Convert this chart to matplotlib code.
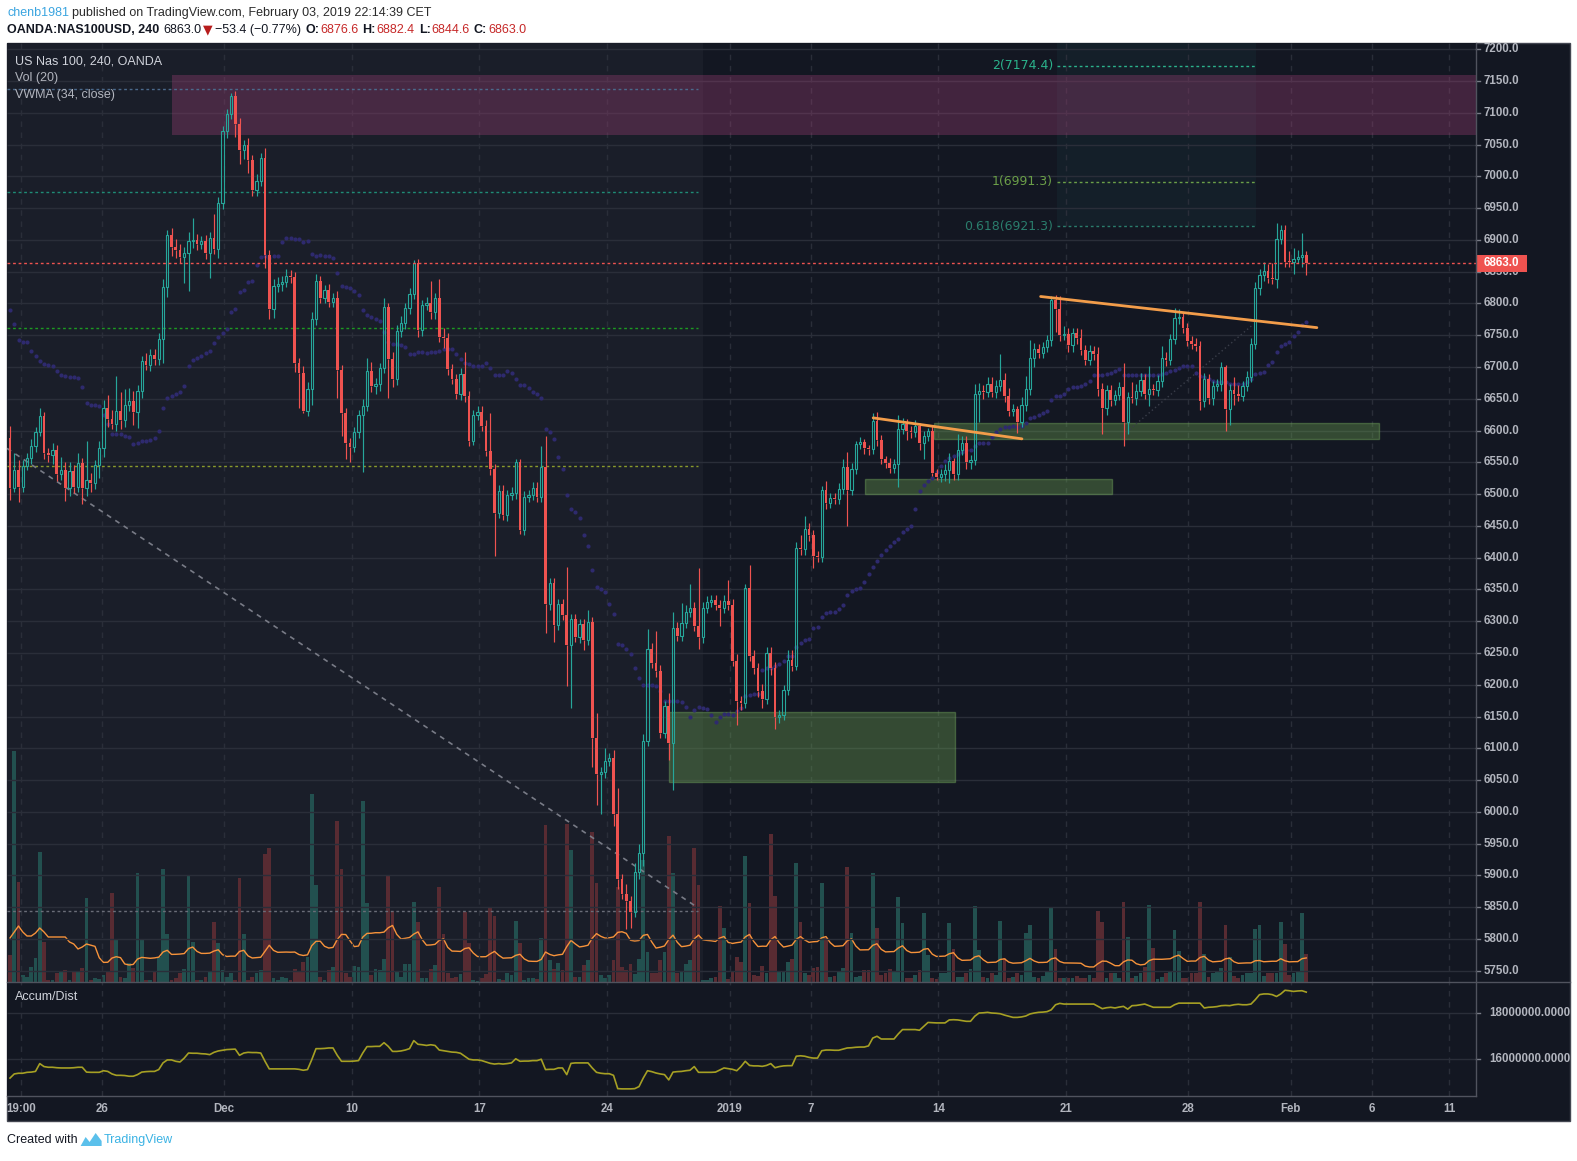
import matplotlib
matplotlib.use("Agg")
import matplotlib.pyplot as plt
import matplotlib.transforms as mtransforms
from matplotlib.patches import Rectangle, Polygon
from matplotlib.collections import LineCollection
from matplotlib.lines import Line2D
import numpy as np
import pandas as pd

# ---------------- data ----------------
first_open = 6589.0
closes = [
 6509, 6538, 6512, 6544, 6557, 6575, 6597, 6623, 6565, 6562,
 6570, 6531, 6538, 6509, 6536, 6512, 6549, 6509, 6523, 6518,
 6546, 6573, 6636, 6618, 6610, 6631, 6617, 6641, 6647, 6629,
 6662, 6710, 6703, 6719, 6713, 6744, 6826, 6908, 6889, 6884,
 6873, 6879, 6898, 6900, 6894, 6898, 6880, 6903, 6886, 6958,
 7071, 7098, 7127, 7082, 7042, 7050, 7026, 6979, 6993, 7029,
 6876, 6792, 6828, 6831, 6834, 6844, 6842, 6707, 6691, 6631,
 6666, 6776, 6836, 6809, 6821, 6803, 6809, 6695, 6628, 6580,
 6574, 6598, 6624, 6639, 6693, 6670, 6673, 6699, 6795, 6713,
 6681, 6756, 6770, 6793, 6815, 6863, 6759, 6798, 6800, 6786,
 6808, 6747, 6745, 6697, 6681, 6658, 6689, 6655, 6583, 6625,
 6630, 6608, 6568, 6540, 6470, 6505, 6467, 6499, 6502, 6550,
 6443, 6495, 6499, 6509, 6495, 6543, 6327, 6360, 6294, 6327,
 6310, 6263, 6304, 6275, 6295, 6270, 6299, 6116, 6060, 6062,
 6080, 6085, 5997, 5894, 5871, 5860, 5842, 5905, 5935, 6112,
 6256, 6235, 6221, 6124, 6167, 6108, 6289, 6277, 6298, 6315,
 6321, 6292, 6275, 6321, 6331, 6333, 6326, 6321, 6332, 6325,
 6238, 6174, 6172, 6352, 6246, 6227, 6191, 6178, 6250, 6226,
 6150, 6152, 6192, 6239, 6229, 6415, 6413, 6445, 6435, 6402,
 6401, 6507, 6486, 6494, 6492, 6508, 6543, 6506, 6539, 6579,
 6582, 6573, 6571, 6615, 6585, 6555, 6549, 6541, 6547, 6602,
 6610, 6600, 6598, 6607, 6581, 6592, 6599, 6534, 6527, 6531,
 6538, 6552, 6531, 6570, 6581, 6550, 6554, 6658, 6663, 6661,
 6673, 6661, 6670, 6679, 6655, 6631, 6634, 6614, 6641, 6666,
 6715, 6728, 6722, 6731, 6743, 6805, 6791, 6750, 6752, 6734,
 6753, 6746, 6727, 6711, 6725, 6721, 6665, 6636, 6664, 6648,
 6656, 6669, 6613, 6653, 6651, 6663, 6680, 6658, 6665, 6664,
 6678, 6714, 6711, 6744, 6777, 6779, 6761, 6741, 6737, 6733,
 6647, 6681, 6652, 6670, 6673, 6700, 6634, 6664, 6657, 6655,
 6670, 6685, 6736, 6824, 6845, 6851, 6840, 6839, 6901, 6915,
 6866, 6865, 6870, 6873, 6877, 6863]

# wick length above body top / below body bottom (points)
upper_wick = [
 18, 27, 15, 10, 8, 12, 8, 13, 6, 8,
 10, 8, 20, 12, 15, 10, 15, 8, 60, 10,
 8, 10, 12, 20, 15, 55, 30, 25, 20, 15,
 10, 8, 12, 10, 10, 10, 12, 7, 10, 12,
 10, 10, 15, 34, 10, 8, 10, 10, 38, 10,
 8, 8, 5, 8, 10, 8, 10, 8, 10, 8,
 16, 8, 10, 10, 10, 10, 8, 8, 8, 10,
 10, 10, 11, 8, 8, 10, 8, 10, 8, 8,
 8, 8, 8, 10, 21, 15, 10, 8, 13, 5,
 10, 10, 10, 8, 10, 6, 7, 8, 10, 36,
 8, 30, 15, 8, 8, 8, 10, 35, 8, 8,
 8, 8, 8, 59, 8, 10, 10, 8, 10, 6,
 6, 10, 8, 10, 10, 32, 48, 8, 8, 8,
 8, 76, 8, 8, 8, 8, 19, 8, 39, 8,
 20, 8, 13, 40, 8, 15, 8, 15, 15, 10,
 32, 10, 49, 10, 8, 20, 25, 10, 30, 10,
 37, 10, 91, 10, 8, 8, 8, 8, 10, 33,
 10, 10, 8, 7, 37, 8, 8, 10, 10, 10,
 10, 8, 8, 15, 15, 10, 20, 20, 10, 8,
 8, 6, 14, 8, 8, 10, 13, 24, 10, 5,
 8, 5, 5, 13, 15, 8, 5, 8, 8, 23,
 10, 8, 8, 10, 5, 8, 5, 8, 5, 8,
 10, 12, 5, 25, 10, 10, 8, 15, 12, 8,
 12, 12, 10, 41, 12, 12, 8, 5, 12, 20,
 28, 10, 8, 8, 8, 7, 8, 20, 12, 10,
 8, 8, 14, 8, 10, 8, 10, 10, 8, 8,
 8, 8, 37, 8, 23, 10, 10, 9, 37, 8,
 10, 19, 10, 8, 16, 12, 8, 8, 8, 8,
 8, 10, 8, 8, 8, 8, 3, 10, 21, 15,
 8, 8, 10, 10, 10, 15, 11, 23, 25, 8,
 8, 17, 17, 11, 34, 6]
lower_wick = [
 18, 5, 25, 8, 6, 10, 8, 6, 10, 12,
 15, 10, 8, 20, 12, 10, 8, 25, 12, 15,
 10, 20, 15, 12, 8, 10, 15, 12, 10, 20,
 25, 10, 8, 10, 10, 10, 37, 16, 15, 12,
 10, 40, 60, 10, 10, 8, 10, 40, 8, 15,
 10, 10, 8, 20, 23, 15, 20, 10, 10, 8,
 20, 16, 15, 10, 12, 8, 10, 15, 55, 3,
 8, 25, 10, 8, 8, 8, 8, 43, 36, 24,
 23, 8, 10, 89, 8, 10, 12, 10, 8, 61,
 12, 10, 8, 10, 10, 8, 12, 10, 8, 10,
 10, 8, 15, 10, 8, 8, 10, 10, 8, 5,
 8, 8, 8, 10, 68, 8, 8, 10, 8, 10,
 6, 8, 8, 8, 8, 8, 45, 10, 27, 8,
 8, 65, 99, 8, 10, 15, 8, 45, 49, 64,
 8, 8, 19, 15, 8, 44, 24, 8, 10, 20,
 8, 8, 8, 8, 8, 27, 74, 8, 8, 8,
 8, 8, 18, 10, 8, 8, 8, 28, 8, 8,
 8, 38, 12, 8, 8, 10, 10, 15, 8, 10,
 20, 10, 8, 8, 8, 6, 8, 8, 8, 18,
 8, 8, 10, 8, 8, 8, 8, 56, 8, 8,
 8, 10, 10, 8, 10, 8, 8, 8, 8, 36,
 8, 15, 10, 8, 12, 25, 8, 5, 5, 8,
 10, 20, 8, 8, 8, 10, 10, 8, 44, 12,
 8, 8, 10, 8, 10, 8, 8, 18, 8, 10,
 10, 15, 8, 8, 8, 10, 36, 9, 8, 10,
 10, 10, 8, 8, 8, 10, 10, 41, 12, 10,
 8, 8, 37, 18, 8, 10, 8, 8, 20, 8,
 10, 10, 10, 8, 8, 10, 8, 8, 8, 8,
 15, 10, 10, 12, 8, 10, 34, 25, 16, 8,
 8, 8, 8, 8, 10, 10, 8, 8, 15, 8,
 8, 7, 18, 6, 16, 18]

volume = [
 27, 231, 100, 7, 5, 15, 24, 130, 40, 2,
 2, 9, 10, 12, 2, 10, 10, 14, 84, 2,
 4, 3, 7, 10, 89, 42, 5, 4, 19, 14,
 109, 42, 2, 2, 10, 25, 113, 48, 2, 4,
 9, 13, 107, 40, 2, 2, 5, 10, 60, 39,
 12, 5, 9, 2, 104, 48, 2, 5, 9, 12,
 128, 134, 4, 2, 5, 4, 2, 13, 10, 20,
 25, 188, 97, 5, 2, 12, 15, 161, 113, 9,
 5, 16, 15, 181, 79, 7, 13, 12, 23, 107,
 71, 10, 5, 18, 18, 80, 60, 4, 4, 13,
 17, 95, 48, 9, 4, 5, 8, 70, 39, 2,
 1, 4, 8, 75, 66, 3, 2, 9, 7, 61,
 39, 2, 4, 4, 3, 44, 157, 22, 13, 19,
 12, 158, 132, 5, 5, 17, 22, 150, 99, 7,
 4, 7, 22, 95, 15, 12, 18, 8, 23, 122,
 30,
 9, 9, 22, 30, 146, 109, 9, 10, 18, 22,
 134, 97, 2, 2, 4, 5, 76, 54, 3, 10,
 25, 20, 126, 79, 7, 6, 16, 9, 148, 86,
 10, 11, 20, 23, 119, 60, 9, 7, 14, 15,
 99, 44, 5, 6, 11, 14, 115, 49, 5, 6,
 12, 12, 109, 54, 7, 9, 13, 10, 85, 59,
 4, 4, 7, 12, 69, 27, 4, 3, 9, 9,
 59, 33, 5, 5, 9, 13, 76, 32, 5, 4,
 9, 7, 61, 24, 4, 5, 9, 7, 49, 57,
 5, 4, 6, 10, 75, 33, 4, 4, 4, 4,
 6, 4, 4, 7, 4, 71, 60, 4, 9, 9,
 4, 80, 45, 4, 6, 9, 15, 77, 34, 3,
 5, 9, 10, 52, 31, 4, 4, 9, 9, 80,
 28, 5, 9, 10, 14, 57, 25, 6, 4, 7,
 9, 9, 53, 57, 6, 9, 9, 9, 60, 38,
 7, 9, 10, 69, 28]
# Vol(20) average for the first bars (history before the window)
vol_ma_head = [44, 50, 56, 50, 46, 46, 49, 54, 50, 45, 45, 45, 45, 45, 40, 38, 33, 35, 38]

vwma = [
 6790, 6768, 6743, 6740, 6739, 6726, 6718, 6710, 6705, 6703,
 6702, 6694, 6688, 6686, 6685, 6684, 6682, 6669, 6644, 6641,
 6640, 6639, 6625, 6610, 6595, 6595, 6594, 6592, 6590, 6579,
 6581, 6583, 6584, 6585, 6589, 6599, 6636, 6652, 6655, 6657,
 6660, 6670, 6702, 6711, 6714, 6717, 6722, 6726, 6738, 6747,
 6754, 6760, 6786, 6791, 6818, 6822, 6834, 6836, 6860, 6873,
 6874, 6872, 6874, 6875, 6896, 6903, 6903, 6902, 6901, 6897,
 6898, 6878, 6875, 6877, 6875, 6875, 6872, 6848, 6828, 6826,
 6824, 6820, 6814, 6789, 6782, 6779, 6776, 6773, 6755, 6740,
 6737, 6736, 6734, 6732, 6720, 6720, 6723, 6723, 6722, 6723,
 6723, 6725, 6728, 6728, 6728, 6720, 6712, 6707, 6704, 6702,
 6701, 6701, 6707, 6698, 6687, 6687, 6687, 6693, 6690, 6681,
 6672, 6672, 6667, 6661, 6658, 6652, 6602, 6597, 6587, 6559,
 6540, 6498, 6476, 6472, 6463, 6436, 6419, 6380, 6354, 6350,
 6346, 6327, 6312, 6264, 6263, 6256, 6249, 6227, 6210, 6200,
 6200, 6200, 6198, 6190, 6175, 6175, 6175, 6175, 6173, 6165,
 6150, 6161, 6165, 6164, 6162, 6153, 6141, 6150, 6154, 6154,
 6153, 6159, 6164, 6182, 6184, 6186, 6186, 6224, 6227, 6227,
 6230, 6232, 6237, 6245, 6245, 6260, 6266, 6270, 6272, 6289,
 6291, 6306, 6313, 6314, 6315, 6319, 6326, 6341, 6348, 6350,
 6352, 6362, 6375, 6385, 6395, 6405, 6412, 6418, 6424, 6430,
 6440, 6445, 6450, 6477, 6505, 6514, 6520, 6525, 6535, 6544,
 6552, 6557, 6560, 6563, 6566, 6569, 6569, 6575, 6580, 6581,
 6581, 6590, 6597, 6603, 6605, 6606, 6607, 6606, 6607, 6612,
 6620, 6621, 6624, 6627, 6631, 6648, 6654, 6655, 6657, 6665,
 6668, 6669, 6670, 6674, 6678, 6688, 6688, 6688, 6689, 6691,
 6694, 6697, 6688, 6688, 6688, 6688, 6688, 6688, 6688, 6688,
 6688, 6689, 6690, 6693, 6696, 6699, 6701, 6701, 6701, 6690,
 6686, 6684, 6681, 6678, 6677, 6676, 6676, 6673, 6673, 6673,
 6673, 6676, 6681, 6689, 6690, 6692, 6703, 6708, 6724, 6733,
 6737, 6740, 6749, 6755, 6766, 6771]

# Accumulation/Distribution, millions
accum_dist_m = [
 15.17, 15.35, 15.38, 15.38, 15.42, 15.43, 15.46, 15.80, 15.67, 15.64,
 15.64, 15.62, 15.61, 15.61, 15.61, 15.62, 15.64, 15.64, 15.43, 15.42,
 15.42, 15.42, 15.49, 15.46, 15.35, 15.29, 15.29, 15.28, 15.25, 15.25,
 15.32, 15.43, 15.45, 15.46, 15.46, 15.54, 15.83, 15.96, 15.96, 15.90,
 15.87, 16.04, 16.26, 16.25, 16.25, 16.23, 16.22, 16.19, 16.29, 16.35,
 16.38, 16.41, 16.42, 16.43, 16.16, 16.26, 16.29, 16.28, 16.28, 16.26,
 15.90, 15.57, 15.57, 15.57, 15.57, 15.57, 15.57, 15.57, 15.55, 15.51,
 15.54, 15.97, 16.45, 16.45, 16.46, 16.48, 16.48, 16.16, 15.90, 15.90,
 15.90, 15.91, 15.93, 16.26, 16.54, 16.54, 16.55, 16.55, 16.71, 16.55,
 16.33, 16.33, 16.35, 16.39, 16.45, 16.80, 16.64, 16.62, 16.59, 16.62,
 16.59, 16.39, 16.36, 16.33, 16.30, 16.29, 16.25, 16.12, 15.99, 15.96,
 15.96, 15.93, 15.87, 15.81, 15.78, 15.80, 15.78, 15.80, 15.83, 16.01,
 15.90, 15.91, 15.91, 15.93, 15.93, 15.99, 15.54, 15.55, 15.55, 15.61,
 15.61, 15.32, 15.81, 15.83, 15.83, 15.83, 15.83, 15.61, 15.42, 15.38,
 15.36, 15.36, 15.29, 14.71, 14.70, 14.70, 14.70, 14.71, 14.80, 15.17,
 15.49, 15.45, 15.39, 15.35, 15.32, 15.09, 15.43, 15.45, 15.46, 15.49,
 15.51, 15.67, 15.42, 15.42, 15.42, 15.42, 15.43, 15.52, 15.61, 15.58,
 15.55, 15.49, 15.67, 15.90, 15.72, 15.70, 15.70, 15.68, 15.72, 15.80,
 15.62, 15.67, 15.70, 15.71, 15.71, 16.12, 16.14, 16.12, 16.07, 16.04,
 16.04, 16.36, 16.39, 16.39, 16.38, 16.38, 16.43, 16.48, 16.49, 16.51,
 16.52, 16.52, 16.57, 16.91, 16.99, 16.87, 16.87, 16.87, 16.87, 17.09,
 17.28, 17.28, 17.28, 17.28, 17.25, 17.42, 17.59, 17.58, 17.57, 17.57,
 17.57, 17.70, 17.71, 17.70, 17.67, 17.64, 17.64, 17.86, 18.00, 18.01,
 18.03, 18.00, 17.99, 17.97, 17.91, 17.86, 17.81, 17.81, 17.83, 17.87,
 17.96, 18.00, 18.03, 18.04, 18.06, 18.14, 18.36, 18.42, 18.39, 18.39,
 18.39, 18.39, 18.39, 18.39, 18.39, 18.39, 18.29, 18.19, 18.23, 18.25,
 18.22, 18.26, 18.29, 18.17, 18.32, 18.33, 18.36, 18.39, 18.32, 18.25,
 18.25, 18.25, 18.25, 18.25, 18.36, 18.43, 18.43, 18.43, 18.43, 18.43,
 18.43, 18.22, 18.25, 18.26, 18.28, 18.32, 18.33, 18.32, 18.36, 18.38,
 18.36, 18.36, 18.39, 18.58, 18.80, 18.83, 18.83, 18.80, 18.72, 18.83,
 18.99, 18.97, 18.94, 18.96, 18.97, 18.91]

tick_pos = [2.5, 21.6, 50.4, 80.4, 110.4, 140.4, 169.4, 188.4, 218.4, 248.4, 277.2, 301.3, 320.5, 338.6]
tick_labels = ["19:00", "26", "Dec", "10", "17", "24", "2019", "7", "14", "21", "28", "Feb", "6", "11"]
price_ticks = list(range(5750, 7201, 50))
ad_ticks = [16000000, 18000000]
last_price = 6863.0

# chart drawings: (bar index, price) anchors
pink_zone = (38.2, 7065, 7160)
green_zones = [(155.1, 222.4, 6047.5, 6156.6), (201.2, 259.3, 6500, 6524.5), (217.4, 322.1, 6587.5, 6612)]
left_levels = [(7138, '#4b6a8c'), (6976, '#1f8c76'), (6761, '#1d9a22'), (6544, '#8a9a2c'), (5844, '#6a6d78')]
left_zone_end = 163.1
left_level_end = 161.9
diag_line = [(-0.7, 6572), (161.9, 5849)]
faint_line = [(261.2, 6589), (292.5, 6767)]
trend_lines = [[(242.5, 6811), (307.5, 6762)], [(203.1, 6620), (238.1, 6587)]]
fib_x = (246.3, 293.2)
fib_levels = [(7174.4, '2(7174.4)', '#2bb38c'), (6991.3, '1(6991.3)', '#6b9f48'), (6921.3, '0.618(6921.3)', '#2a7d6c')]

# ---------------- figure ----------------
W, H, DPI = 1577, 1161, 100
FONT = ['Liberation Sans', 'DejaVu Sans']
plt.rcParams['font.family'] = FONT
fig = plt.figure(figsize=(W / DPI, H / DPI), dpi=DPI)
fig.patch.set_facecolor('white')

def fx(px):
    return px / W

def fy(py):
    return 1 - py / H

L, R = 7, 1476
T_P, B_P, B_A = 43, 982, 1096
FR, FB = 1570, 1121
BG = '#131722'
GRID = '#2a2e39'
TXT = '#b2b5be'
UP, DN = '#26a69a', '#ef5350'

frame = Rectangle((fx(L), fy(FB)), fx(FR) - fx(L), fy(T_P) - fy(FB), transform=fig.transFigure,
                  fc=BG, ec='#434651', lw=1, zorder=-5)
fig.add_artist(frame)

rect_p = [fx(L), fy(B_P), fx(R) - fx(L), fy(T_P) - fy(B_P)]
ax_v = fig.add_axes(rect_p)
ax = fig.add_axes(rect_p)
ax_ad = fig.add_axes([fx(L), fy(B_A), fx(R) - fx(L), fy(B_P) - fy(B_A)])

XMIN, XMAX = -0.706, 344.94
PMIN, PMAX = 5732.3, 7209.9
for a in (ax_v, ax, ax_ad):
    a.set_xlim(XMIN, XMAX)
    a.set_xticks([])
    a.set_yticks([])
    for s in a.spines.values():
        s.set_visible(False)
ax_v.set_facecolor(BG)
ax.set_facecolor('none')
ax_ad.set_facecolor(BG)
ax.set_ylim(PMIN, PMAX)
ax_v.set_ylim(0, 939)
ax_ad.set_ylim(14.39e6, 19.35e6)

n = len(closes)
x = np.arange(n)
c = np.array(closes, float)
o = np.concatenate([[first_open], c[:-1]])
top = np.maximum(o, c)
bot = np.minimum(o, c)
hi = top + np.array(upper_wick, float)
lo = bot - np.array(lower_wick, float)
up = c >= o

# ---- background layer: lighter zone + volume ----
ax_v.axvspan(XMIN, left_zone_end, color='#1a1e29', lw=0, zorder=0)
vcol = np.where(up, '#22504f', '#582b32')
ax_v.bar(x, volume, width=0.92, color=vcol, lw=0, zorder=2)
vol_ma = pd.Series(volume, dtype=float).rolling(20).mean().to_numpy()
vol_ma[:len(vol_ma_head)] = vol_ma_head
ax_v.plot(x, vol_ma, color='#f7933b', lw=1.0, zorder=3)

# ---- price layer ----
ax.hlines(price_ticks, XMIN, XMAX, colors=GRID, lw=1, zorder=0.5)
ax.vlines(tick_pos, PMIN, PMAX, colors=GRID, linestyles=(0, (4, 4)), lw=1, zorder=0.5)

# fib box + levels
ax.add_patch(Rectangle((fib_x[0], fib_levels[2][0]), fib_x[1] - fib_x[0], PMAX - fib_levels[2][0],
                       fc='#26a69a', alpha=0.06, ec='none', zorder=0.4))
for lvl, lab, col in fib_levels:
    ax.hlines(lvl, fib_x[0], fib_x[1], colors=col, linestyles=(0, (2, 2)), lw=1, zorder=1.5)
    ax.text(fib_x[0] - 0.9, lvl, lab, ha='right', va='center', color=col, fontsize=9,
            family=['DejaVu Sans'], zorder=5)

# pink zone
ax.add_patch(Rectangle((pink_zone[0], pink_zone[1]), XMAX - pink_zone[0], pink_zone[2] - pink_zone[1],
                       fc='#9c3f74', alpha=0.35, ec='none', zorder=1))
# green zones
for x0, x1, p0, p1 in green_zones:
    ax.add_patch(Rectangle((x0, p0), x1 - x0, p1 - p0, fc='#66994f', alpha=0.40,
                           ec='#79b060', lw=1, zorder=1))

# left horizontal levels
for lvl, col in left_levels:
    ax.hlines(lvl, XMIN, left_level_end, colors=col, linestyles=(0, (2, 2)), lw=1, zorder=1.5)
# diagonal dashed line
ax.plot([p[0] for p in diag_line], [p[1] for p in diag_line], color='#787b86',
        ls=(0, (3, 3)), lw=1.2, zorder=1.6)
ax.plot([p[0] for p in faint_line], [p[1] for p in faint_line], color='#3a3e4a',
        ls=(0, (1, 2)), lw=1, zorder=1.6)

# VWMA dots
ax.plot(x, vwma, 'o', ms=3.0, color='#2e2a6e', mec='none', zorder=2)

# candles: wicks
segs, wcols = [], []
for i in range(n):
    col = UP if up[i] else DN
    segs.append([(x[i], top[i]), (x[i], hi[i])])
    segs.append([(x[i], lo[i]), (x[i], bot[i])])
    wcols += [col, col]
ax.add_collection(LineCollection(segs, colors=wcols, lw=0.85, zorder=3))
hgt = np.maximum(top - bot, 1.6)
ax.bar(x[~up], hgt[~up], bottom=bot[~up], width=0.66, color=DN, lw=0, zorder=3.2)
ax.bar(x[up], hgt[up], bottom=bot[up], width=0.56, facecolor='none', edgecolor=UP, lw=0.8, zorder=3.2)

# trend lines
for tl in trend_lines:
    ax.plot([p[0] for p in tl], [p[1] for p in tl], color='#f39d4a', lw=2, zorder=4,
            solid_capstyle='round')

# last price line
ax.axhline(last_price, color=DN, ls=(0, (2, 2)), lw=1, zorder=4)

# ---- A/D panel ----
ax_ad.hlines(ad_ticks, XMIN, XMAX, colors=GRID, lw=1, zorder=0.5)
ax_ad.vlines(tick_pos, 14.39e6, 19.35e6, colors=GRID, linestyles=(0, (4, 4)), lw=1, zorder=0.5)
ax_ad.plot(x, np.array(accum_dist_m) * 1e6, color='#a6a024', lw=1.2, zorder=2)

# ---- axes labels ----
tr_p = mtransforms.blended_transform_factory(fig.transFigure, ax.transData)
for p in price_ticks:
    ax.text(fx(1484), p, f"{p:.1f}", transform=tr_p, ha='left', va='center', fontsize=8.3,
            fontweight='bold', color=TXT, clip_on=False, zorder=5)
    ax.plot([fx(R), fx(R + 4)], [p, p], transform=tr_p, color='#787b86', lw=1, clip_on=False)
# last price tag
ax.add_patch(Rectangle((fx(R), last_price - 13.4), fx(1527) - fx(R), 26.8, transform=tr_p,
                       fc=DN, ec='none', clip_on=False, zorder=6))
ax.text(fx(1484), last_price, f"{last_price:.1f}", transform=tr_p, ha='left', va='center',
        fontsize=8.3, fontweight='bold', color='white', clip_on=False, zorder=7)

tr_a = mtransforms.blended_transform_factory(fig.transFigure, ax_ad.transData)
for v in ad_ticks:
    ax_ad.text(fx(1489), v, f"{v:.4f}", transform=tr_a, ha='left', va='center', fontsize=8.3,
               fontweight='bold', color=TXT, clip_on=False)
    ax_ad.plot([fx(R), fx(R + 4)], [v, v], transform=tr_a, color='#787b86', lw=1, clip_on=False)

tr_t = mtransforms.blended_transform_factory(ax_ad.transData, fig.transFigure)
for pos, lab in zip(tick_pos, tick_labels):
    ax_ad.text(pos, fy(1109), lab, transform=tr_t, ha='center', va='center', fontsize=8.3,
               fontweight='bold', color=TXT, clip_on=False)

# separators
for (xa, xb, ya, yb) in [(L, FR, B_P, B_P), (L, R, B_A, B_A), (R, R, T_P, B_A)]:
    fig.add_artist(Line2D([fx(xa), fx(xb)], [fy(ya), fy(yb)], transform=fig.transFigure,
                          color='#50535e', lw=1, zorder=10))

# legends
fig.text(fx(15), fy(61), "US Nas 100, 240, OANDA", fontsize=9, color='#d1d4dc', va='center')
fig.text(fx(15), fy(78), "Vol (20)", fontsize=9, color=TXT, va='center')
fig.text(fx(15), fy(95), "VWMA (34, close)", fontsize=9, color=TXT, va='center')
fig.text(fx(15), fy(997), "Accum/Dist", fontsize=9, color='#d1d4dc', va='center')

# header (chained pieces)
renderer = fig.canvas.get_renderer()

def chain(x_px, y_px, pieces, size):
    xx = x_px
    for text, color, weight, gap, fam in pieces:
        xx += gap
        t = fig.text(fx(xx), fy(y_px), text, color=color, fontsize=size, fontweight=weight,
                     family=fam, ha='left', va='center')
        bb = t.get_window_extent(renderer=renderer)
        xx = bb.x1
    return xx

BLK = '#131722'
RED = '#c62828'
chain(7, 13, [("chenb1981", '#3ba5e0', 'normal', 0, FONT),
              ("published on TradingView.com, February 03, 2019 22:14:39 CET", '#2b2b2b', 'normal', 3, FONT)], 9)
chain(7, 30, [("OANDA:NAS100USD, 240", BLK, 'bold', 0, FONT),
              ("6863.0", BLK, 'normal', 4, FONT),
              ("\u25BC", '#b71c1c', 'normal', 2, ['DejaVu Sans']),
              ("\u221253.4 (\u22120.77%)", BLK, 'normal', 2, FONT),
              ("O:", BLK, 'bold', 4, FONT), ("6876.6", RED, 'normal', 1, FONT),
              ("H:", BLK, 'bold', 4, FONT), ("6882.4", RED, 'normal', 1, FONT),
              ("L:", BLK, 'bold', 4, FONT), ("6844.6", RED, 'normal', 1, FONT),
              ("C:", BLK, 'bold', 4, FONT), ("6863.0", RED, 'normal', 1, FONT)], 9)

# footer
xe = chain(7, 1140, [("Created with", BLK, 'normal', 0, FONT)], 9)
logo = [(xe + 3, 1146), (xe + 8, 1137), (xe + 12, 1142), (xe + 18, 1133), (xe + 24, 1141),
        (xe + 24, 1146)]
fig.add_artist(Polygon([(fx(a), fy(b)) for a, b in logo], closed=True, transform=fig.transFigure,
                       fc='#5bc0eb', ec='none'))
chain(xe + 25, 1140, [("TradingView", '#3bb3e4', 'normal', 1, FONT)], 9)

fig.savefig('out.png', dpi=DPI, facecolor='white')
